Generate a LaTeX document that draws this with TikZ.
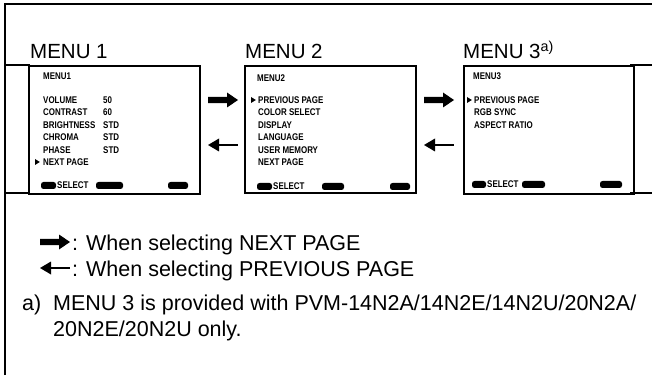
\documentclass[tikz,border=0pt]{standalone}
\usepackage{fontspec}
\setmainfont{Liberation Sans}
\newfontfamily\scrfont[FakeStretch=0.82]{Liberation Sans}
\begin{document}
\begin{tikzpicture}[x=1pt,y=-1pt,
  frameline/.style={line width=1.6pt},
  screen/.style={draw, line width=1.6pt, rectangle, anchor=north west, inner sep=0pt},
  scr/.style={font=\scrfont\bfseries\fontsize{9.7}{10}\selectfont, anchor=base west, inner sep=0pt},
  lbl/.style={font=\fontsize{20.5}{24}\selectfont, anchor=base west, inner sep=0pt},
  legend/.style={font=\fontsize{21.5}{25}\selectfont, anchor=base west, inner sep=0pt},
  icon/.style={fill=black, rounded corners=2.5pt},
  blockarrow/.pic={\fill (-15,-3.2) -- (4,-3.2) -- (4,-7.5) -- (15,0) -- (4,7.5) -- (4,3.2) -- (-15,3.2) -- cycle;},
  thinarrow/.pic={\fill (-15,0) -- (-4,-6.5) -- (-4,6.5) -- cycle; \fill (-4.5,-1.1) rectangle (15,1.1);},
  marker/.pic={\fill (0,-3) -- (4.8,0) -- (0,3) -- cycle;}
]
\useasboundingbox (0,0) rectangle (652,379);

% outer frame
\draw[frameline] (5,375) -- (5,4) -- (652,4);
\draw[frameline] (5,65) -- (30,65);
\draw[frameline] (5,193) -- (30,193);
\draw[frameline] (630,65) -- (652,65);
\draw[frameline] (630,193) -- (652,193);

% screens
\node[screen, minimum width=171pt, minimum height=128pt] (s1) at (28,65) {};
\node[screen, minimum width=171pt, minimum height=127pt] (s2) at (244,65) {};
\node[screen, minimum width=170pt, minimum height=128pt] (s3) at (463,65) {};

% menu titles
\node[lbl] (t1) at (30,59) {MENU 1};
\node[lbl] (t2) at (245,59) {MENU 2};
\node[lbl] (t3) at (463,59) {MENU 3\textsuperscript{a)}};

% screen 1 content
\node[scr] (m1) at (43,80) {MENU1};
\node[scr] (v1) at (43,103.5) {VOLUME};
\node[scr] (v2) at (43,115.9) {CONTRAST};
\node[scr] (v3) at (43,128.3) {BRIGHTNESS};
\node[scr] (v4) at (43,140.7) {CHROMA};
\node[scr] (v5) at (43,153.1) {PHASE};
\node[scr] (v6) at (43,165.5) {NEXT PAGE};
\node[scr] (w1) at (103,103.5) {50};
\node[scr] (w2) at (103,115.9) {60};
\node[scr] (w3) at (103,128.3) {STD};
\node[scr] (w4) at (103,140.7) {STD};
\node[scr] (w5) at (103,153.1) {STD};
\pic at (35,162) {marker};
\fill[icon] (41,182) rectangle (56,189);
\node[scr] (sel1) at (57,188.5) {SELECT};
\fill[icon] (96,182) rectangle (123,189);
\fill[icon] (168,182) rectangle (188,189);

% screen 2 content
\node[scr] (m2) at (257,81.5) {MENU2};
\node[scr] (p1) at (258,103.5) {PREVIOUS PAGE};
\node[scr] (p2) at (258,115.9) {COLOR SELECT};
\node[scr] (p3) at (258,128.3) {DISPLAY};
\node[scr] (p4) at (258,140.7) {LANGUAGE};
\node[scr] (p5) at (258,153.1) {USER MEMORY};
\node[scr] (p6) at (258,165.5) {NEXT PAGE};
\pic at (251,100) {marker};
\fill[icon] (257,183) rectangle (272,190);
\node[scr] (sel2) at (273,189.5) {SELECT};
\fill[icon] (322,183) rectangle (344,190);
\fill[icon] (390,183) rectangle (410,190);

% screen 3 content
\node[scr] (m3) at (473,80) {MENU3};
\node[scr] (q1) at (474,103.5) {PREVIOUS PAGE};
\node[scr] (q2) at (474,115.9) {RGB SYNC};
\node[scr] (q3) at (474,128.3) {ASPECT RATIO};
\pic at (467,100) {marker};
\fill[icon] (472,181) rectangle (486,188);
\node[scr] (sel3) at (487,187.5) {SELECT};
\fill[icon] (522,181) rectangle (545,188);
\fill[icon] (600,181) rectangle (622,188);

% arrows between screens
\pic at (223,100) {blockarrow};
\pic at (223,145) {thinarrow};
\pic at (439,100) {blockarrow};
\pic at (439,145) {thinarrow};

% legend
\pic at (55,242) {blockarrow};
\node[legend] (l1) at (72,250) {: When selecting NEXT PAGE};
\pic at (55,268) {thinarrow};
\node[legend] (l2) at (72,276) {: When selecting PREVIOUS PAGE};
\node[legend] (fa) at (22,310) {a)};
\node[legend] (f1) at (53,310) {MENU 3 is provided with PVM-14N2A/14N2E/14N2U/20N2A/};
\node[legend] (f2) at (53,336) {20N2E/20N2U only.};
\end{tikzpicture}
\end{document}
